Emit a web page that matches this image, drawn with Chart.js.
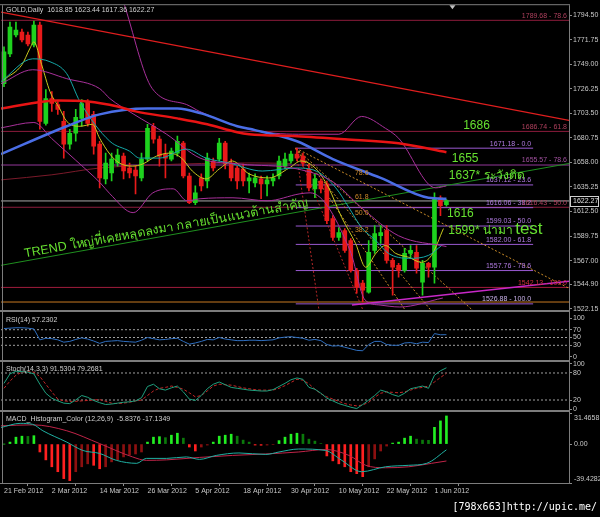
<!DOCTYPE html>
<html>
<head>
<meta charset="utf-8">
<title>GOLD Daily</title>
<script src="https://cdn.jsdelivr.net/npm/chart.js@4.4.1/dist/chart.umd.min.js"></script>
<style>
  html, body { margin: 0; padding: 0; background: #000; }
  #box { position: relative; width: 600px; height: 517px; }
  #box canvas { position: absolute; left: 0; top: 0; }
</style>
</head>
<body>
<div id="box">
  <canvas id="cMain" width="600" height="517"></canvas>
  <canvas id="cRsi" width="600" height="517"></canvas>
  <canvas id="cSto" width="600" height="517"></canvas>
  <canvas id="cMacd" width="600" height="517"></canvas>
</div>
<script>
// bar 0 = 21 Feb 2012, one bar per trading day, last bar = 5 Jun 2012
const opens = [1731.0,1758.6,1776.1,1778.9,1776.1,1766.9,1785.3,1694.2,1717.2,1711.7,
  1696.0,1674.9,1685.0,1698.8,1714.4,1702.5,1674.9,1642.7,1648.2,1657.4,
  1663.8,1652.8,1650.9,1643.6,1661.1,1691.5,1679.5,1665.7,1661.1,1666.6,
  1675.8,1645.4,1620.6,1643.6,1640.8,1659.3,1661.1,1675.8,1657.4,1652.8,
  1651.9,1640.8,1639.0,1642.7,1638.1,1640.8,1645.4,1654.6,1659.3,1665.7,
  1663.8,1651.9,1633.5,1640.8,1638.1,1605.9,1588.4,1594.8,1585.6,1558.0,
  1546.1,1537.8,1576.4,1590.2,1594.8,1567.2,1562.6,1558.0,1573.7,1574.6,
  1547.0,1564.5,1560.8,1625.2,1618.85];
const highs = [1765.1,1788.1,1788.1,1781.6,1778.9,1789.0,1788.1,1725.5,1723.6,1714.4,
  1705.3,1688.7,1707.1,1716.3,1716.3,1705.3,1677.6,1666.6,1666.6,1670.3,
  1666.6,1657.4,1654.6,1666.6,1693.3,1694.2,1682.3,1674.9,1671.2,1682.3,
  1677.6,1648.2,1636.2,1647.3,1666.6,1662.0,1680.4,1677.6,1661.1,1654.6,
  1656.5,1648.2,1647.3,1645.4,1645.4,1647.3,1663.8,1666.6,1668.4,1671.2,
  1666.6,1656.5,1647.3,1642.7,1640.8,1608.6,1597.6,1596.7,1587.5,1559.9,
  1548.8,1585.6,1599.5,1599.5,1599.5,1569.1,1564.5,1578.3,1581.0,1581.0,
  1567.2,1565.4,1629.8,1627.0,1623.44];
const lows = [1728.2,1755.9,1774.3,1769.7,1766.0,1765.1,1688.7,1692.4,1705.3,1702.5,
  1662.0,1670.3,1677.6,1691.5,1691.5,1665.7,1634.4,1638.1,1640.8,1654.6,
  1642.7,1643.6,1628.9,1640.8,1659.3,1675.8,1654.6,1643.6,1659.3,1663.8,
  1643.6,1619.7,1618.8,1631.6,1634.4,1650.0,1659.3,1651.9,1640.8,1633.5,
  1636.2,1629.8,1635.3,1624.3,1627.0,1636.2,1642.7,1651.9,1657.4,1659.3,
  1654.6,1631.6,1625.2,1629.8,1601.3,1585.6,1585.6,1574.6,1556.2,1536.9,
  1528.6,1536.9,1573.7,1582.9,1564.5,1535.0,1551.6,1556.2,1569.1,1555.3,
  1535.0,1551.6,1546.1,1608.6,1617.36];
const closes = [1760.5,1783.5,1780.7,1771.5,1767.8,1785.3,1696.0,1717.2,1712.6,1707.1,
  1674.9,1685.0,1699.7,1712.6,1694.2,1673.0,1643.6,1657.4,1661.1,1664.8,
  1650.0,1648.2,1645.4,1661.1,1689.6,1679.5,1663.8,1662.0,1668.4,1677.6,
  1645.4,1620.6,1629.8,1636.2,1662.0,1652.8,1675.8,1656.5,1643.6,1640.8,
  1640.8,1643.6,1643.6,1638.1,1641.8,1643.6,1659.3,1661.1,1665.7,1662.0,
  1657.4,1634.4,1642.7,1633.5,1604.0,1588.4,1593.0,1576.4,1558.0,1542.4,
  1539.6,1574.6,1592.1,1593.0,1567.2,1560.8,1558.0,1573.7,1576.4,1559.9,
  1564.5,1560.8,1624.3,1617.8,1622.27];

const dateTicks = [0, 8, 16, 24, 32, 40, 48, 56, 64, 72];
const dateLabels = ['21 Feb 2012', '2 Mar 2012', '14 Mar 2012', '26 Mar 2012', '5 Apr 2012',
  '18 Apr 2012', '30 Apr 2012', '10 May 2012', '22 May 2012', '1 Jun 2012'];
const priceTicks = [1794.50, 1771.75, 1749.00, 1726.25, 1703.50, 1680.75, 1658.00,
  1635.25, 1612.50, 1589.75, 1567.00, 1544.90, 1522.15];

const maRed = [[-0.5,1708.0],[9,1715.4],[14,1714.4],[19,1709.8],[22,1705.3],[29,1698.8],[34,1693.3],
  [39,1685.9],[41,1684.1],[49,1682.3],[57,1679.5],[66,1675.8],[74,1667.5]];
const maBlue = [[-0.5,1665.7],[10.5,1691.5],[16,1702.5],[24,1708.0],[29,1708.0],[33,1703.4],[39,1691.5],
  [42,1687.9],[49,1677.6],[55,1661.1],[63,1643.6],[71,1625.2],[74,1624.3]];
const maSlow = [[-0.5,1641.8],[8,1646.5],[16,1652.8],[25,1655.5],[33,1657.0],[42,1657.5],[48,1657.0]];
const maYellow = [[0,1734.7],[3,1748.5],[4.3,1763.2],[5,1769.7],[6.3,1748.5],[7.7,1723.6],[9.3,1708.0],
  [10.5,1696.0],[12.7,1691.5],[14.8,1693.3],[16,1680.4],[17.7,1665.7],[19.3,1657.4],[21.5,1654.6],
  [23.2,1656.5],[25.5,1663.8],[27.7,1666.6],[29.7,1662.0],[31.5,1650.0],[33.8,1642.7],[36,1651.9],
  [38.2,1659.3],[41,1647.3],[44.3,1643.6],[47.7,1652.8],[49.7,1659.3],[52.2,1651.9],[54.3,1634.4],
  [56.5,1606.8],[58.8,1582.9],[60.5,1560.8],[62.2,1573.7],[63.8,1581.0],[65.5,1573.7],[67.7,1570.0],
  [69.8,1565.4],[71.5,1571.8],[73.5,1596.7]];
const maCyan = [[-0.5,1732.9],[4.8,1754.0],[7.7,1751.3],[10.5,1740.2],[12.7,1714.4],[17.7,1677.6],
  [21,1668.4],[22.7,1662.0],[26,1662.0],[30.5,1670.3],[33.8,1662.0],[37.7,1657.4],[43.2,1650.0],
  [48.8,1652.8],[52.2,1650.0],[55.5,1634.4],[57.7,1616.0],[59.8,1597.6],[62.2,1585.6],[64.3,1573.7],
  [67.7,1569.1],[71,1571.8],[73.2,1581.0]];
const bandUpper = [[20,1806.5],[24.8,1726.4],[30.5,1711.7],[32.7,1705.3],[41,1688.7],[49.3,1684.1],
  [56,1684.1],[59.8,1700.6],[63.8,1689.6],[66,1680.4],[72.2,1634.4],[74,1636.2]];
const bandMiddle = [[-0.5,1731.0],[4.8,1743.9],[10.5,1735.6],[16,1726.4],[17.7,1717.2],[21.6,1703.0],
  [27.2,1684.1],[32.8,1662.0],[39.5,1656.5],[49,1652.0],[55,1640.0],[60,1615.0],[66,1590.0],[74,1580.0]];
const bandLower = [[-0.5,1690.0],[5,1695.0],[8,1680.0],[12,1660.0],[16.1,1639.0],[17.7,1629.0],[21.6,1611.4],
  [24.9,1629.8],[28.3,1633.5],[30.6,1622.4],[32.8,1624.3],[38.3,1625.2],[44,1622.4],[49.5,1628.9],
  [51.2,1629.8],[57.9,1576.0],[60.4,1530.4],[62.9,1525.8],[66.2,1524.0],[73.4,1532.3]];

// drawn objects
const trendRed = [[-0.5,1797.3],[94.5,1696.9]];
const trendGreen = [[-0.5,1562.6],[94.5,1657.0]];
const trendMagenta = [[58.2,1525.8],[94.5,1547.9]];
const fanOrange = [
  [[48.8,1671.18],[94.5,1541.3]],
  [[48.8,1671.18],[78.5,1520.3]],
  [[48.8,1671.18],[71.5,1520.3]],
  [[48.8,1671.18],[67.2,1520.3]]];
const fanRed = [
  [[48.8,1671.18],[60.1,1520.3]],
  [[48.8,1671.18],[52.7,1520.3]]];
const fanLabels = ['78.6', '61.8', '50.0', '38.2'];
const fanLabelPrices = [1643.6, 1621.9, 1606.7, 1591.4];
const fanLabelBar = 58.7;

const levelPrices = [1789.68, 1686.74, 1671.18, 1655.57, 1637.12, 1616.06, 1616.43, 1599.03, 1582.00, 1557.76, 1542.13, 1526.88];
const levelTexts = ['1789.68 - 78.6', '1686.74 - 61.8', '1671.18 - 0.0', '1655.57 - 78.6', '1637.12 - 23.6',
  '1616.06 - 38.2', '1616.43 - 50.0', '1599.03 - 50.0', '1582.00 - 61.8', '1557.76 - 78.6', '1542.13 - 100.0', '1526.88 - 100.0'];
const levelFrom = [-0.5, -0.5, 48.8, -0.5, 48.8, 48.8, -0.5, 48.8, 48.8, 48.8, -0.5, 48.8];
const levelTo = [94.5, 94.5, 88.5, 94.5, 88.5, 88.5, 94.5, 88.5, 88.5, 88.5, 94.5, 88.5];
const bidPrice = 1622.27;
const floorPrice = 1528.6;

const noteTexts = ['1686', '1655', '1637* ระวังติด', '1616', '1599* น่ามา', 'test'];
const noteBars = [76.8, 74.9, 74.4, 74.1, 74.3, 85.5];
const notePrices = [1692.4, 1661.1, 1645.4, 1610.5, 1594.8, 1595.8];
const caption = 'TREND ใหญ่ที่เคยหลุดลงมา กลายเป็นแนวต้านสำคัญ';

// indicator windows, one value per bar
const rsi = [73,74,75,75,74,72,44,48,47,44,
  38,40,45,49,46,41,35,40,41,42,
  40,39,38,43,50,47,44,45,47,48,
  40,33,36,40,45,44,50,46,44,42,
  42,43,43,42,43,44,49,51,52,50,
  48,43,45,42,32,28,29,25,21,17,
  16,32,40,40,32,30,30,36,37,34,
  38,37,60,57,57.2];
const stochK = [57,78,84,83,82,78,55,35,24,18,
  13,12,20,30,26,19,14,10,11,13,
  15,16,18,25,50,55,45,42,47,51,
  38,22,19,30,45,55,60,54,48,46,
  44,42,41,40,40,43,50,57,65,69,
  66,48,44,35,24,18,12,8,4,1,
  10,20,30,42,38,32,28,35,45,48,
  51,46,75,85,91.5];
const stochD = [46,62,75,82,83,82,72,55,38,22,
  18,17,17,18,19,20,21,17,13,12,
  13,15,18,20,30,40,46,48,51,48,
  44,36,27,30,40,51,55,54,53,50,
  47,45,43,42,42,42,46,52,59,66,
  64,56,44,34,27,22,17,12,9,7,
  9,15,26,35,38,37,36,38,42,46,
  48,51,60,70,79.3];
const macdHist = [0,2,7,8,7.8,8.5,-8,-16,-23,-28,
  -35,-37,-28,-23,-20,-21.5,-25,-23,-18,-16,
  -13,-11,-10,-8,2,7,7.5,6.5,9,11,
  6,-3,-7,-3,-1,2,8,9,10,8,
  4,2,-1,-1.2,-1,-0.5,3.5,7,10,11,
  10,5,3,0.5,-12,-17,-20,-23,-28,-30,
  -33,-23,-15,-7,-2,1,2,6,8,5,
  4,3.8,17,23.5,28.5];
const macdMain = [[-0.5,16.8],[2.7,21],[4.8,20],[6.5,13.5],[10.5,2],[13.2,-6.5],[16,-9.5],[18.8,-16.5],
  [22.2,-19.5],[23.8,-14.5],[27.2,-14.5],[30.5,-13],[32.7,-15.5],[35.5,-11.5],[39.3,-9],[43.8,-10.5],
  [46,-8],[49.3,-5],[53.8,-6.5],[56.5,-16.5],[59.8,-28],[63.8,-23],[67.7,-21.5],[70.7,-19.5],[74,-5.84]];
const macdSignal = [[-0.5,18.5],[4.8,19.5],[10.5,13.5],[16,0.5],[21.5,-13],[23.8,-16.5],[27.2,-16],
  [32.7,-13.5],[38.2,-11.5],[43.8,-10],[49.3,-8],[53.8,-5.5],[57.7,-11.5],[60.5,-21.5],[63.8,-24],
  [67.7,-23],[71.5,-19.5],[74,-17.13]];

const rsiTicks = [100, 70, 50, 30, 0];
const rsiLevels = [70, 50, 30];
const stochTicks = [100, 80, 20, 0];
const stochLevels = [80, 20];
const macdTicks = [31.4658, 0, -39.4282];
const macdTickText = ['31.4658', '0.00', '-39.4282'];

const FONT = "'Liberation Sans', Arial, sans-serif";
Chart.defaults.font.family = FONT;
Chart.defaults.font.size = 7;
Chart.defaults.color = '#c8c8c8';

const pts = pairs => pairs.map(([x, y]) => ({ x, y }));
const line = (data, color, width, extra) => Object.assign({
  type: 'line', data, borderColor: color, borderWidth: width, pointRadius: 0, fill: false,
  tension: 0, order: 3
}, extra || {});
const smooth = { cubicInterpolationMode: 'monotone' };
const span = v => [{ x: -0.5, y: v }, { x: 94.5, y: v }];

const xScale = show => ({
  type: 'linear', min: -0.5, max: 94.5, offset: false, display: show,
  grid: { drawOnChartArea: false, drawTicks: true, tickLength: 3, color: '#8c8c8c' },
  border: { display: false },
  ticks: { color: '#c8c8c8', align: 'start', padding: 1, autoSkip: false, maxRotation: 0,
    callback: v => dateLabels[dateTicks.indexOf(v)] || '' },
  afterBuildTicks: s => { s.ticks = dateTicks.map(v => ({ value: v })); },
  afterFit: s => { s.height = show ? 34 : 0; }
});
const yScale = (min, max, ticks, fmt, showLabels) => ({
  type: 'linear', position: 'right', min, max,
  grid: { drawOnChartArea: false, drawTicks: true, tickLength: 3, color: '#8c8c8c' },
  border: { display: false },
  ticks: { color: '#c8c8c8', padding: 1, display: showLabels !== false, callback: fmt },
  afterBuildTicks: s => { s.ticks = ticks.map(v => ({ value: v })); },
  afterFit: s => { s.width = 31; }
});

// grey window frames like the terminal draws them
const frame = {
  id: 'frame',
  beforeDraw(chart, args, opts) {
    if (!opts.fill) return;
    const { ctx } = chart;
    ctx.save(); ctx.fillStyle = '#000'; ctx.fillRect(0, 0, chart.width, chart.height); ctx.restore();
  },
  afterDraw(chart, args, opts) {
    const { ctx, chartArea: a } = chart;
    ctx.save();
    ctx.strokeStyle = '#7c7c7c';
    ctx.lineWidth = opts.top;
    ctx.beginPath(); ctx.moveTo(0, a.top - opts.top / 2); ctx.lineTo(a.right + 1, a.top - opts.top / 2); ctx.stroke();
    ctx.lineWidth = 1;
    ctx.beginPath();
    ctx.moveTo(a.right + 0.5, a.top); ctx.lineTo(a.right + 0.5, a.bottom);
    ctx.moveTo(2.5, a.top); ctx.lineTo(2.5, a.bottom);
    if (opts.bottom) { ctx.moveTo(0, a.bottom + 0.5); ctx.lineTo(a.right + 1, a.bottom + 0.5); }
    ctx.stroke();
    if (opts.title) {
      ctx.font = '7px ' + FONT; ctx.fillStyle = '#d0d0d0';
      ctx.textAlign = 'left'; ctx.textBaseline = 'middle';
      ctx.fillText(opts.title, 6, a.top + opts.titleDy);
    }
    ctx.restore();
  }
};

const mainDecor = {
  id: 'mainDecor',
  afterDatasetsDraw(chart) {
    const { ctx, chartArea: a, scales: { x, y } } = chart;
    const X = v => x.getPixelForValue(v), Y = v => y.getPixelForValue(v);
    ctx.save();
    ctx.beginPath(); ctx.rect(a.left, a.top, a.right - a.left, a.bottom - a.top); ctx.clip();
    ctx.font = '7px ' + FONT; ctx.textAlign = 'right'; ctx.textBaseline = 'bottom';
    levelPrices.forEach((p, k) => {
      ctx.fillStyle = levelInk[k];
      ctx.fillText(levelTexts[k], X(levelTo[k]) - 2, Y(p) - 1);
    });
    ctx.textAlign = 'left'; ctx.fillStyle = '#d08a2a';
    fanLabels.forEach((t, k) => ctx.fillText(t, X(fanLabelBar), Y(fanLabelPrices[k]) - 1));

    ctx.fillStyle = '#66e030'; ctx.textBaseline = 'middle';
    noteTexts.forEach((t, k) => {
      ctx.font = (t === 'test' ? 17 : 12) + "px 'Liberation Sans', 'DejaVu Sans', 'Noto Sans', sans-serif";
      ctx.fillText(t, X(noteBars[k]), Y(notePrices[k]));
    });
    const ang = Math.atan2(Y(trendGreen[1][1]) - Y(trendGreen[0][1]), X(trendGreen[1][0]) - X(trendGreen[0][0]));
    ctx.translate(X(3.5), Y(1570.0));
    ctx.rotate(ang);
    ctx.font = "12.5px 'Liberation Sans', 'DejaVu Sans', 'Noto Sans', sans-serif";
    ctx.textBaseline = 'alphabetic';
    ctx.fillText(caption, 0, 0);
    ctx.restore();
  },
  afterDraw(chart) {
    const { ctx, chartArea: a, scales: { x, y } } = chart;
    ctx.save();
    // bid price box on the scale
    const by = Math.round(y.getPixelForValue(bidPrice)) + 0.5;
    ctx.fillStyle = '#000'; ctx.fillRect(a.right + 1, by - 5, 29, 10);
    ctx.strokeStyle = '#d0d0d0'; ctx.lineWidth = 1; ctx.strokeRect(a.right + 1.5, by - 5, 28, 10);
    ctx.font = '7px ' + FONT; ctx.fillStyle = '#e0e0e0'; ctx.textAlign = 'left'; ctx.textBaseline = 'middle';
    ctx.fillText(bidPrice.toFixed(2), a.right + 4, by);
    // chart shift marker
    const sx = x.getPixelForValue(75);
    ctx.fillStyle = '#c0c0c0';
    ctx.beginPath(); ctx.moveTo(sx - 3, a.top); ctx.lineTo(sx + 3, a.top); ctx.lineTo(sx, a.top + 4); ctx.closePath(); ctx.fill();
    ctx.restore();
  }
};

const levelLine = ['#8c1c3c', '#8c1c3c', '#9a5ad2', '#94389a', '#9a5ad2', '#9a5ad2', '#8c1c3c', '#9a5ad2', '#9a5ad2', '#9a5ad2', '#a01c3c', '#9a5ad2'];
const levelInk = ['#b0405e', '#b0405e', '#b07ae0', '#a0509e', '#b07ae0', '#b07ae0', '#b0405e', '#b07ae0', '#b07ae0', '#b07ae0', '#d03040', '#c8b0e8'];

// ---- main window ----
const bars = opens.map((o, i) => i);
const candleInk = bars.map(i => closes[i] >= opens[i] ? '#1ed21e' : '#e81a1a');
const mainSets = [];
levelPrices.forEach((p, k) => {
  mainSets.push(line([{ x: levelFrom[k], y: p }, { x: levelTo[k], y: p }], levelLine[k], 1, { order: 20 }));
});
mainSets.push(line(span(bidPrice), '#a8a8a8', 1, { order: 20 }));
mainSets.push(line(span(floorPrice), '#c87a22', 1, { order: 20 }));
mainSets.push(line(pts(trendRed), '#e01e1e', 1.2, { order: 19 }));
mainSets.push(line(pts(trendGreen), '#1f8f1f', 1, { order: 19 }));
mainSets.push(line(pts(trendMagenta), '#c828c8', 1.5, { order: 19 }));
fanOrange.forEach(f => mainSets.push(line(pts(f), '#c88a28', 1, { order: 19, borderDash: [2, 2] })));
fanRed.forEach(f => mainSets.push(line(pts(f), '#b42828', 1, { order: 19, borderDash: [2, 2] })));
mainSets.push({ type: 'bar', data: bars.map(i => ({ x: i, y: [lows[i], highs[i]] })), backgroundColor: candleInk,
  barThickness: 1, grouped: false, order: 6 });
mainSets.push({ type: 'bar', data: bars.map(i => ({ x: i, y: [opens[i], closes[i]] })), backgroundColor: candleInk,
  barThickness: 4, minBarLength: 1, grouped: false, order: 5 });
mainSets.push(line(pts(maSlow), '#7a1a2a', 1, Object.assign({ order: 8 }, smooth)));
mainSets.push(line(pts(bandUpper), '#a8309a', 1, smooth));
mainSets.push(line(pts(bandMiddle), '#a8309a', 1, smooth));
mainSets.push(line(pts(bandLower), '#a8309a', 1, smooth));
mainSets.push(line(pts(maCyan), '#14a8a8', 1, smooth));
mainSets.push(line(pts(maYellow), '#c8c81e', 1, smooth));
mainSets.push(line(pts(maRed), '#e81414', 2.5, Object.assign({ order: 2 }, smooth)));
mainSets.push(line(pts(maBlue), '#4a6ee6', 2.5, Object.assign({ order: 2 }, smooth)));

function panel(id, top, bottom, yOpts, datasets, plugins, pluginOpts, showX) {
  return new Chart(document.getElementById(id), {
    type: 'bar',
    data: { datasets },
    options: {
      responsive: false, animation: false, events: [],
      layout: { padding: { top, bottom: showX ? 0 : 517 - bottom, left: 1, right: 0 } },
      plugins: Object.assign({ legend: { display: false }, tooltip: { enabled: false } }, pluginOpts),
      scales: { x: xScale(showX), y: yOpts }
    },
    plugins
  });
}

panel('cMain', 3, 310, yScale(1521.2, 1803.7, priceTicks, v => v.toFixed(2)), mainSets,
  [frame, mainDecor], { frame: { fill: true, top: 1, title: 'GOLD,Daily  1618.85 1623.44 1617.36 1622.27', titleDy: 5 } }, false);

// ---- RSI ----
const rsiSets = rsiLevels.map(v => line(span(v), '#a0a0a0', 1, { borderDash: [2, 2], order: 9 }));
rsiSets.push(line(bars.map(i => ({ x: i, y: rsi[i] })), '#2f6fc0', 1));
panel('cRsi', 312, 360, yScale(-7.7, 115.4, rsiTicks, v => String(v)), rsiSets,
  [frame], { frame: { top: 2, title: 'RSI(14) 57.2302', titleDy: 8 } }, false);

// ---- Stochastic ----
const stoSets = stochLevels.map(v => line(span(v), '#a0a0a0', 1, { borderDash: [2, 2], order: 9 }));
stoSets.push(line(bars.map(i => ({ x: i, y: stochD[i] })), '#c42626', 1, { borderDash: [3, 2] }));
stoSets.push(line(bars.map(i => ({ x: i, y: stochK[i] })), '#1fa07e', 1, { order: 2 }));
panel('cSto', 362, 410, yScale(-2.2, 104.4, stochTicks, v => String(v)), stoSets,
  [frame], { frame: { top: 2, title: 'Stoch(14,3,3) 91.5304 79.2681', titleDy: 7 } }, false);

// ---- MACD histogram ----
const histInk = macdHist.map((v, i) => {
  const prev = i ? macdHist[i - 1] : 0;
  if (v >= 0) return v >= prev ? '#22ee22' : '#0b7a0b';
  return v <= prev ? '#ff2020' : '#8c1010';
});
const macdSets = [
  { type: 'bar', data: bars.map(i => ({ x: i, y: macdHist[i] })), backgroundColor: histInk, barThickness: 2, grouped: false, order: 5 },
  line(pts(macdSignal), '#c02448', 1, smooth),
  line(pts(macdMain), '#1fb0a2', 1, Object.assign({ order: 2 }, smooth))
];
const macdLabels = {
  id: 'macdLabels',
  afterDraw(chart) {
    const { ctx, chartArea: a, scales: { y } } = chart;
    ctx.save();
    ctx.font = '7px ' + FONT; ctx.fillStyle = '#c8c8c8'; ctx.textAlign = 'left'; ctx.textBaseline = 'middle';
    macdTicks.forEach((v, k) => {
      let py = y.getPixelForValue(v);
      if (k === 0) py += 5;
      if (k === macdTicks.length - 1) py -= 4;
      ctx.fillText(macdTickText[k], a.right + 5, py);
    });
    ctx.fillStyle = '#ffffff';
    ctx.font = "10px 'DejaVu Sans Mono', monospace";
    ctx.textAlign = 'right';
    ctx.fillText('[798x663]http://upic.me/', 597, 507);
    ctx.restore();
  }
};
panel('cMacd', 412, 483, yScale(-39.4282, 32.5, macdTicks, () => '', false), macdSets,
  [frame, macdLabels], { frame: { top: 2, bottom: true, title: 'MACD_Histogram_Color (12,26,9)  -5.8376 -17.1349', titleDy: 7 } }, true);
</script>
</body>
</html>
